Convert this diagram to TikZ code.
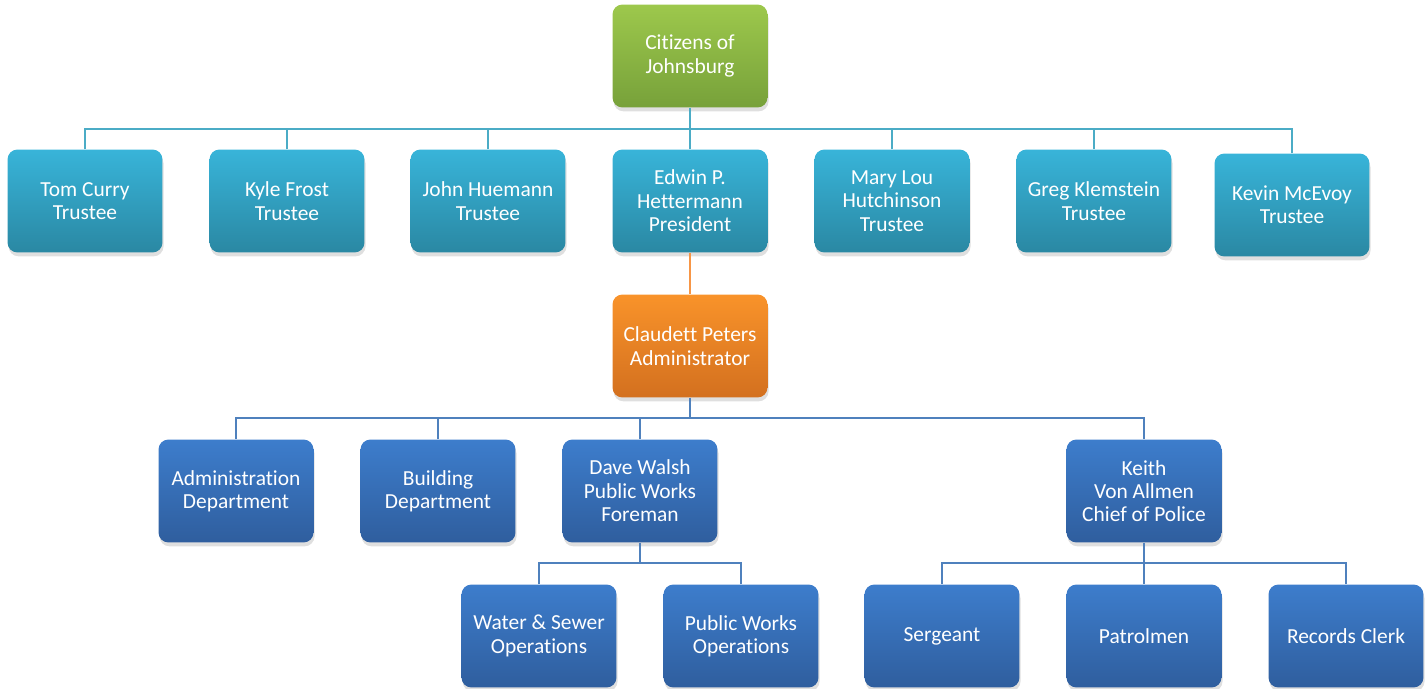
\documentclass[tikz,border=0pt]{standalone}
\usepackage{fontspec}
\setmainfont[Ligatures=NoCommon]{Carlito}
\usetikzlibrary{shadows}
\definecolor{greentop}{HTML}{9DC84C}
\definecolor{greenbot}{HTML}{77A13A}
\definecolor{tealtop}{HTML}{38B4D9}
\definecolor{tealbot}{HTML}{2A88A3}
\definecolor{orgtop}{HTML}{F9932A}
\definecolor{orgbot}{HTML}{D3701F}
\definecolor{bluetop}{HTML}{3D7DCC}
\definecolor{bluebot}{HTML}{2F5E9E}
\definecolor{tealline}{HTML}{4BACC6}
\definecolor{orgline}{HTML}{F79646}
\definecolor{blueline}{HTML}{4F81BD}

\begin{document}
\begin{tikzpicture}[x=0.02cm,y=-0.02cm,
box/.style={rounded corners=0.2cm, minimum width=3.1cm, minimum height=2.06cm,
	text=white, align=center, font=\fontsize{12.2}{13.3}\selectfont,
	drop shadow={opacity=0.25, shadow xshift=0.6pt, shadow yshift=-2.2pt}},
greenbox/.style={box, top color=greentop, bottom color=greenbot},
tealbox/.style={box, top color=tealtop, bottom color=tealbot},
orgbox/.style={box, top color=orgtop, bottom color=orgbot},
bluebox/.style={box, top color=bluetop, bottom color=bluebot},
link/.style={line width=1.1pt}]
\useasboundingbox (0,0) rectangle (1428,689);

%top of the chart
\node[greenbox](cit) at (690,56) {Citizens of\\Johnsburg};

%board of trustees
\node[tealbox](tom) at (85,201) {Tom Curry\\Trustee};
\node[tealbox](kyle) at (287,201) {Kyle Frost\\Trustee};
\node[tealbox](john) at (488,201) {John Huemann\\Trustee};
\node[tealbox](edwin) at (690,201) {Edwin P.\\Hettermann\\President};
\node[tealbox](mary) at (892,201) {Mary Lou\\Hutchinson\\Trustee};
\node[tealbox](greg) at (1094,201) {Greg Klemstein\\Trustee};
\node[tealbox](kevin) at (1292,205) {Kevin McEvoy\\Trustee};

%administrator
\node[orgbox](claud) at (690,346) {Claudett Peters\\Administrator};

%departments
\node[bluebox](admin) at (236,491) {Administration\\Department};
\node[bluebox](build) at (438,491) {Building\\Department};
\node[bluebox](dave) at (640,491) {Dave Walsh\\Public Works\\Foreman};
\node[bluebox](keith) at (1144,491) {Keith\\Von Allmen\\Chief of Police};

%lowest level
\node[bluebox](water) at (539,636) {Water \& Sewer\\Operations};
\node[bluebox](pwops) at (741,636) {Public Works\\Operations};
\node[bluebox](serg) at (942,636) {Sergeant};
\node[bluebox](patrol) at (1144,636) {Patrolmen};
\node[bluebox](rec) at (1346,636) {Records Clerk};

%bus points
\coordinate(tbus) at (690,129);
\coordinate(abus) at (690,418);
\coordinate(dbus) at (640,563);
\coordinate(kbus) at (1144,563);

%connectors
\draw[link, tealline] (cit.south) -- (tbus);
\foreach \x in {tom,kyle,john,edwin,mary,greg,kevin}{
	\draw[link, tealline] (\x.north) |- (tbus);
}
\draw[link, orgline] (edwin.south) -- (claud.north);
\draw[link, blueline] (claud.south) -- (abus);
\foreach \x in {admin,build,dave,keith}{
	\draw[link, blueline] (\x.north) |- (abus);
}
\draw[link, blueline] (dave.south) -- (dbus);
\foreach \x in {water,pwops}{
	\draw[link, blueline] (\x.north) |- (dbus);
}
\draw[link, blueline] (keith.south) -- (kbus);
\foreach \x in {serg,patrol,rec}{
	\draw[link, blueline] (\x.north) |- (kbus);
}
\end{tikzpicture}
\end{document}
